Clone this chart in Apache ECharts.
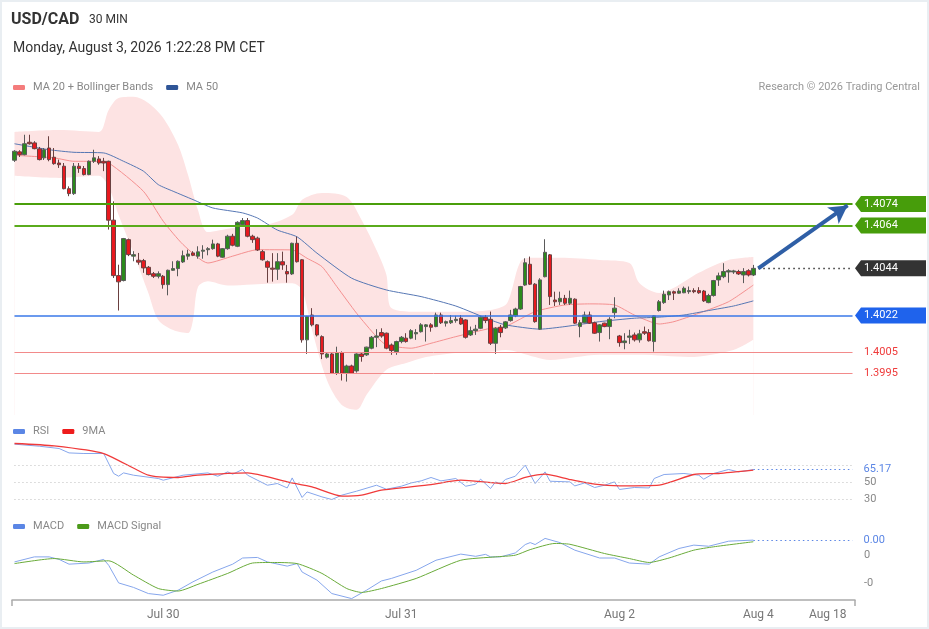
<!DOCTYPE html>
<html><head><meta charset="utf-8">
<script src="https://cdn.jsdelivr.net/npm/echarts@6/dist/echarts.min.js"></script>
<style>
html,body{margin:0;padding:0;background:#fff;}
#c{width:929px;height:629px;position:absolute;left:0;top:0;}
#frame{position:absolute;left:0;top:0;width:929px;height:629px;box-sizing:border-box;border:2px solid #e9eef2;pointer-events:none;}
</style></head><body>
<div id="c"></div><div id="frame"></div>
<script>
// ---------- DATA ----------
const opens=[1.40945,1.40984,1.40971,1.41029,1.41026,1.40998,1.40956,1.41002,1.40959,1.40932,
1.40917,1.40812,1.40789,1.40917,1.40906,1.40878,1.40940,1.40951,1.40940,1.40940,
1.40665,1.40406,1.40383,1.40574,1.40497,1.40478,1.40476,1.40445,1.40415,1.40403,
1.40403,1.40364,1.40431,1.40439,1.40470,1.40497,1.40512,1.40497,1.40520,1.40527,
1.40532,1.40554,1.40492,1.40532,1.40590,1.40543,1.40644,1.40663,1.40590,1.40581,
1.40518,1.40471,1.40441,1.40436,1.40471,1.40425,1.40414,1.40557,1.40480,1.40106,
1.40222,1.40176,1.40121,1.40025,1.40040,1.39950,1.40046,1.39950,1.39984,1.39961,
1.40040,1.40036,1.40067,1.40118,1.40140,1.40137,1.40082,1.40051,1.40098,1.40114,
1.40114,1.40134,1.40144,1.40168,1.40176,1.40168,1.40222,1.40184,1.40186,1.40196,
1.40207,1.40199,1.40129,1.40149,1.40160,1.40212,1.40202,1.40090,1.40165,1.40162,
1.40196,1.40218,1.40250,1.40362,1.40459,1.40366,1.40156,1.40401,1.40503,1.40292,
1.40284,1.40300,1.40277,1.40296,1.40168,1.40186,1.40222,1.40186,1.40140,1.40184,
1.40168,1.40233,1.40124,1.40093,1.40118,1.40129,1.40106,1.40144,1.40140,1.40098,
1.40243,1.40280,1.40316,1.40331,1.40324,1.40326,1.40331,1.40336,1.40336,1.40334,
1.40280,1.40313,1.40386,1.40401,1.40423,1.40423,1.40425,1.40409,1.40429,1.40409];
const closes=[1.40987,1.40971,1.41022,1.41022,1.40999,1.40948,1.40994,1.40948,1.40929,1.40924,
1.40812,1.40789,1.40917,1.40906,1.40878,1.40940,1.40956,1.40932,1.40932,1.40665,
1.40406,1.40377,1.40579,1.40504,1.40504,1.40469,1.40442,1.40411,1.40403,1.40415,
1.40364,1.40431,1.40439,1.40473,1.40499,1.40507,1.40501,1.40517,1.40525,1.40532,
1.40554,1.40497,1.40532,1.40590,1.40548,1.40655,1.40663,1.40590,1.40574,1.40526,
1.40480,1.40445,1.40436,1.40471,1.40456,1.40414,1.40557,1.40471,1.40106,1.40215,
1.40176,1.40129,1.40040,1.40040,1.39950,1.40046,1.39950,1.39984,1.39950,1.40040,
1.40028,1.40072,1.40118,1.40124,1.40124,1.40067,1.40056,1.40098,1.40118,1.40098,
1.40149,1.40140,1.40176,1.40176,1.40165,1.40222,1.40186,1.40191,1.40196,1.40202,
1.40180,1.40118,1.40149,1.40156,1.40212,1.40196,1.40090,1.40160,1.40140,1.40190,
1.40222,1.40250,1.40355,1.40466,1.40366,1.40191,1.40386,1.40515,1.40308,1.40284,
1.40300,1.40277,1.40300,1.40184,1.40186,1.40222,1.40184,1.40137,1.40176,1.40168,
1.40202,1.40254,1.40093,1.40101,1.40124,1.40106,1.40134,1.40137,1.40102,1.40218,
1.40284,1.40319,1.40331,1.40324,1.40334,1.40347,1.40336,1.40331,1.40326,1.40288,
1.40313,1.40383,1.40405,1.40425,1.40429,1.40428,1.40414,1.40425,1.40409,1.40440];
const lows=[1.40937,1.40960,1.40968,1.41018,1.40996,1.40944,1.40946,1.40940,1.40924,1.40909,
1.40809,1.40777,1.40783,1.40886,1.40874,1.40875,1.40932,1.40924,1.40894,1.40621,
1.40395,1.40243,1.40379,1.40497,1.40473,1.40457,1.40419,1.40407,1.40395,1.40393,
1.40345,1.40314,1.40428,1.40403,1.40465,1.40480,1.40497,1.40485,1.40485,1.40501,
1.40527,1.40492,1.40489,1.40527,1.40543,1.40539,1.40641,1.40585,1.40559,1.40521,
1.40476,1.40373,1.40378,1.40386,1.40433,1.40373,1.40409,1.40467,1.40093,1.40040,
1.40169,1.40122,1.40016,1.40019,1.39947,1.39942,1.39916,1.39911,1.39947,1.39953,
1.40004,1.40031,1.40062,1.40072,1.40116,1.40062,1.40036,1.40036,1.40090,1.40093,
1.40109,1.40106,1.40140,1.40098,1.40144,1.40165,1.40180,1.40168,1.40180,1.40186,
1.40176,1.40112,1.40124,1.40129,1.40156,1.40184,1.40082,1.40040,1.40118,1.40157,
1.40191,1.40212,1.40246,1.40358,1.40362,1.40186,1.40152,1.40398,1.40269,1.40264,
1.40269,1.40269,1.40269,1.40180,1.40118,1.40184,1.40180,1.40134,1.40098,1.40165,
1.40109,1.40207,1.40074,1.40062,1.40087,1.40098,1.40093,1.40129,1.40098,1.40051,
1.40238,1.40274,1.40292,1.40292,1.40321,1.40324,1.40321,1.40324,1.40321,1.40283,
1.40277,1.40308,1.40358,1.40394,1.40373,1.40414,1.40409,1.40371,1.40402,1.40404];
const highs=[1.40992,1.40992,1.41064,1.41064,1.41034,1.41007,1.41002,1.41057,1.41002,1.40948,
1.40932,1.40823,1.40932,1.40932,1.40918,1.40944,1.40994,1.40964,1.40956,1.40943,
1.40753,1.40457,1.40582,1.40579,1.40520,1.40512,1.40484,1.40451,1.40423,1.40426,
1.40409,1.40434,1.40473,1.40477,1.40523,1.40527,1.40520,1.40543,1.40548,1.40539,
1.40574,1.40559,1.40535,1.40597,1.40601,1.40660,1.40675,1.40675,1.40597,1.40588,
1.40526,1.40477,1.40511,1.40511,1.40518,1.40456,1.40560,1.40588,1.40483,1.40218,
1.40254,1.40180,1.40127,1.40047,1.40046,1.40074,1.40052,1.39990,1.39990,1.40043,
1.40046,1.40074,1.40124,1.40156,1.40160,1.40140,1.40089,1.40102,1.40124,1.40137,
1.40156,1.40156,1.40184,1.40180,1.40184,1.40233,1.40233,1.40196,1.40222,1.40218,
1.40222,1.40202,1.40168,1.40176,1.40218,1.40222,1.40238,1.40165,1.40176,1.40194,
1.40246,1.40256,1.40358,1.40487,1.40495,1.40371,1.40394,1.40576,1.40507,1.40331,
1.40331,1.40316,1.40336,1.40300,1.40199,1.40238,1.40238,1.40191,1.40180,1.40186,
1.40212,1.40305,1.40129,1.40137,1.40153,1.40140,1.40153,1.40168,1.40156,1.40222,
1.40292,1.40336,1.40336,1.40336,1.40347,1.40355,1.40355,1.40347,1.40352,1.40339,
1.40321,1.40386,1.40420,1.40464,1.40436,1.40433,1.40433,1.40441,1.40436,1.40456];

const ma20Idx=[0,8,12,16,19,26,30,34,39,44,49,56,59,62,65,69,73,75,80,84,89,96,99,105,111,116,121,125,130,133,138,144,149];
const ma20Val=[1.40968,1.40956,1.40940,1.40940,1.40932,1.40800,1.40660,1.40551,1.40465,1.40497,1.40527,1.40526,1.40487,1.40448,1.40355,1.40230,1.40121,1.40082,1.40067,1.40090,1.40121,1.40160,1.40168,1.40238,1.40269,1.40274,1.40269,1.40222,1.40180,1.40191,1.40230,1.40284,1.40362];
const ma50Idx=[0,7,12,18,22,26,29,32,36,40,46,49,53,57,61,68,75,82,89,96,99,106,111,118,125,130,135,140,145,149];
const ma50Val=[1.41022,1.40994,1.40982,1.40979,1.40940,1.40894,1.40831,1.40800,1.40761,1.40722,1.40699,1.40675,1.40619,1.40587,1.40511,1.40394,1.40339,1.40308,1.40264,1.40199,1.40176,1.40156,1.40168,1.40191,1.40207,1.40212,1.40222,1.40243,1.40264,1.40288];
const upperIdx=[0,9,17,19,21,24,27,30,33,35,37,39,44,50,56,58,62,67,70,73,75,76,82,89,96,99,100,102,104,110,118,124,126,130,133,138,144,149];
const upperVal=[1.41077,1.41086,1.41077,1.41180,1.41236,1.41241,1.41212,1.41142,1.41016,1.40876,1.40713,1.40610,1.40629,1.40638,1.40690,1.40760,1.40792,1.40773,1.40666,1.40526,1.40410,1.40255,1.40237,1.40237,1.40246,1.40269,1.40316,1.40470,1.40489,1.40489,1.40479,1.40465,1.40372,1.40325,1.40349,1.40419,1.40479,1.40493];
const lowerIdx=[0,9,17,19,21,24,27,29,32,35,36,37,39,43,48,56,58,60,63,66,69,71,75,79,83,89,96,99,105,108,118,126,136,145,149];
const lowerVal=[1.40872,1.40862,1.40872,1.40820,1.40689,1.40512,1.40325,1.40199,1.40152,1.40138,1.40199,1.40353,1.40380,1.40360,1.40365,1.40370,1.40339,1.40152,1.39919,1.39802,1.39779,1.39849,1.39966,1.39998,1.40026,1.40045,1.40050,1.40059,1.40026,1.40012,1.40036,1.40036,1.40026,1.40059,1.40106];

const rsiIdx=[0,5,9,11,14,18,20,21,22,24,29,30,34,39,41,43,44,46,47,51,53,55,56,58,59,62,64,66,69,73,75,78,80,82,84,86,89,91,93,94,96,97,98,99,101,103,105,107,108,112,113,115,117,119,121,122,125,128,129,131,135,138,139,141,144,146,149];
const rsiVal=[95.1,92.7,90.0,84.8,84.1,84.1,60.6,57.4,61.3,58.6,54.7,52.7,58.6,61.3,57.4,62.5,59.8,65.3,58.6,46.8,48.8,43.6,55.4,32.4,38.9,33.1,30.0,35.1,39.8,46.8,42.1,45.6,49.5,51.9,55.9,51.9,54.7,45.6,48.0,53.9,42.9,50.7,48.0,53.5,57.4,70.4,48.8,62.5,51.5,50.7,46.0,49.5,44.1,46.8,50.7,41.8,44.1,43.6,54.7,59.4,60.6,58.6,53.9,60.6,65.3,62.5,65.17];
const rsiMaIdx=[0,8,18,27,33,37,47,55,60,66,70,74,84,90,99,103,107,112,117,122,130,137,142,149];
const rsiMaVal=[95.9,93.1,84.1,58.6,55.9,58.6,61.3,50.7,44.8,33.9,35.1,41.0,47.6,52.7,48.8,55.9,59.8,53.5,48.0,46.0,46.8,59.4,60.6,64.5];
const rsiLevels=[70,50,30];

const macdIdx=[0,4,7,9,11,15,18,19,21,24,27,30,33,36,40,44,46,49,51,55,57,58,61,64,68,71,74,76,81,85,90,93,95,96,98,101,103,104,105,107,110,113,118,121,124,128,130,134,137,140,144,149];
const macdVal=[-0.00024,-0.00006,-0.00006,-0.00015,-0.00032,-0.00028,-0.00015,-0.00036,-0.00099,-0.00115,-0.00137,-0.00143,-0.00125,-0.00095,-0.00060,-0.00032,-0.00010,-0.00008,-0.00024,-0.00039,-0.00030,-0.00060,-0.00089,-0.00137,-0.00155,-0.00125,-0.00092,-0.00083,-0.00054,-0.00018,0.00004,-0.00004,0.00003,-0.00006,-0.00006,0.00008,0.00038,0.00045,0.00038,0.00060,0.00045,0.00018,-0.00010,-0.00010,-0.00028,-0.00032,-0.00006,0.00024,0.00036,0.00032,0.00050,0.00054];
const signalIdx=[0,8,14,19,24,29,33,37,43,48,52,57,62,67,70,74,81,90,97,101,104,109,112,119,124,128,132,137,141,149];
const signalVal=[-0.00030,-0.00012,-0.00024,-0.00020,-0.00071,-0.00119,-0.00128,-0.00104,-0.00065,-0.00028,-0.00026,-0.00030,-0.00065,-0.00119,-0.00133,-0.00119,-0.00083,-0.00018,-0.00006,0.00000,0.00020,0.00042,0.00039,0.00006,-0.00012,-0.00026,-0.00010,0.00018,0.00030,0.00048];

const levelVal=[1.4074,1.4064,1.4044,1.4022,1.4005,1.3995];
const levelKind=['green','green','last','blue','red','red'];
const targetVal=1.4074;

const tickIdx=[30,78,122,150,164];
const tickText=['Jul 30','Jul 31','Aug 2','Aug 4','Aug 18'];

// ---------- LAYOUT ----------
const nCats=170;
const categories=Array.from({length:nCats},(_,i)=>String(i));
const GL=12, GR=74, GRIGHTX=929-GR;
const pairs=(ix,v)=>ix.map((x,k)=>[x,v[k]]);
const candles=opens.map((o,k)=>[o,closes[k],lows[k],highs[k]]);
const lastIdx=opens.length-1;
const lastClose=closes[lastIdx];
const rsiLast=rsiVal[rsiVal.length-1];
const macdLast=macdVal[macdVal.length-1];
const colors={green:'#479d0b',blue:'#1f63ec',last:'#333333',red:'#ef3b3b'};
const lineStyles={
  green:[{color:'#4a9e0a',width:2},{color:'#5aab1c',width:2}],
  blue:{color:'#3a78e8',width:1.5},
  red:{color:'#f28a8a',width:1}
};
const legendBase={icon:'roundRect',itemWidth:12,itemHeight:5,itemGap:13,padding:0,selectedMode:false,
  textStyle:{color:'#888',fontSize:11,padding:[0,0,0,3]}};

const levelLines=[];
levelVal.forEach((v,k)=>{
  const kind=levelKind[k];
  if(kind==='last') return;
  const ls=kind==='green'?lineStyles.green[k]:lineStyles[kind];
  levelLines.push([{coord:[0,v],lineStyle:Object.assign({type:'solid'},ls)},{coord:[nCats-1,v]}]);
});

const option={
  animation:false,
  textStyle:{fontFamily:'Roboto, sans-serif'},
  title:[
    {text:'USD/CAD',left:11,top:12,padding:0,textStyle:{fontSize:16,fontWeight:'bold',color:'#333'}},
    {text:'30 MIN',left:89,top:14,padding:0,textStyle:{fontSize:12,fontWeight:'normal',color:'#333'}},
    {text:'Monday, August 3, 2026 1:22:28 PM CET',left:13,top:41,padding:0,textStyle:{fontSize:14,fontWeight:'normal',color:'#333'}},
    {text:'Research \u00a9 2026 Trading Central',right:9,top:82,padding:0,textStyle:{fontSize:11,fontWeight:'normal',color:'#999'}}
  ],
  legend:[
    Object.assign({},legendBase,{data:['MA 20 + Bollinger Bands','MA 50'],left:13,top:82}),
    Object.assign({},legendBase,{data:['RSI','9MA'],left:13,top:426}),
    Object.assign({},legendBase,{data:['MACD','MACD Signal'],left:13,top:521})
  ],
  grid:[
    {left:GL,right:GR,top:90,height:325},
    {left:GL,right:GR,top:440,height:68},
    {left:GL,right:GR,top:530,height:70}
  ],
  xAxis:[
    {gridIndex:0,type:'category',data:categories,boundaryGap:true,show:false},
    {gridIndex:1,type:'category',data:categories,boundaryGap:true,show:false},
    {gridIndex:2,type:'category',data:categories,boundaryGap:true,
     axisLine:{onZero:false,lineStyle:{color:'#aaa',width:1.5}},axisTick:{show:false},
     axisLabel:{color:'#777',fontSize:12,margin:9,
       interval:(i)=>tickIdx.indexOf(i)>=0,
       formatter:(v,i)=>{const k=tickIdx.indexOf(i);return k>=0?tickText[k]:'';}}}
  ],
  yAxis:[
    {gridIndex:0,type:'value',min:1.39755,max:1.41273,show:false,splitLine:{show:false}},
    {gridIndex:1,type:'value',min:20,max:100,interval:10,position:'right',
     splitLine:{show:false},axisLine:{show:false},axisTick:{show:false},
     axisLabel:{color:'#888',fontSize:11,margin:9,formatter:(v)=>(v===30||v===50)?String(v):''}},
    {gridIndex:2,type:'value',min:-0.0016,max:0.0009,interval:0.0001,position:'right',
     splitLine:{show:false},axisLine:{show:false},axisTick:{show:false},
     axisLabel:{color:'#888',fontSize:11,margin:9,formatter:(v)=>Math.abs(v)<1e-9?'0':(Math.abs(v+0.001)<1e-9?'-0':'')}}
  ],
  series:[
    {name:'BBU',type:'line',xAxisIndex:0,yAxisIndex:0,data:pairs(upperIdx,upperVal),symbol:'none',smooth:0.3,
     lineStyle:{width:0,opacity:0},areaStyle:{color:'#fde3e3',opacity:1,origin:'start'},z:1,silent:true},
    {name:'BBL',type:'line',xAxisIndex:0,yAxisIndex:0,data:pairs(lowerIdx,lowerVal),symbol:'none',smooth:0.3,
     lineStyle:{width:0,opacity:0},areaStyle:{color:'#ffffff',opacity:1,origin:'start'},z:1,silent:true},
    {name:'MA 20 + Bollinger Bands',type:'line',xAxisIndex:0,yAxisIndex:0,data:pairs(ma20Idx,ma20Val),symbol:'none',smooth:0.2,
     color:'#f47c7c',lineStyle:{color:'#f59090',width:1},z:2,silent:true},
    {name:'MA 50',type:'line',xAxisIndex:0,yAxisIndex:0,data:pairs(ma50Idx,ma50Val),symbol:'none',smooth:0.2,
     color:'#2f5597',lineStyle:{color:'#5677b4',width:1},z:2,silent:true},
    {name:'USD/CAD',type:'candlestick',xAxisIndex:0,yAxisIndex:0,data:candles,barWidth:4,z:3,silent:true,
     itemStyle:{color:'#2b8a1c',color0:'#e8191e',borderColor:'#5a5a5a',borderColor0:'#6a4040',borderWidth:1}},
    {name:'levels',type:'line',xAxisIndex:0,yAxisIndex:0,data:[[lastIdx,lastClose]],showSymbol:false,symbol:'none',
     lineStyle:{opacity:0},z:5,silent:true,
     markLine:{silent:true,symbol:['none','none'],label:{show:false},animation:false,
       data:[
         ...levelLines,
         [{coord:[lastIdx+1,levelVal[2]],lineStyle:{color:'#333',width:1.3,type:[1.5,3.5]}},{coord:[nCats-1,levelVal[2]]}],
         [{coord:[lastIdx+1,lastClose],symbol:'none',lineStyle:{color:'#2f5fa6',width:4,type:'solid'}},
          {coord:[nCats-2,targetVal-0.00006],symbol:'arrow',symbolSize:[15,18]}]
       ]}},
    {name:'RSI',type:'line',xAxisIndex:1,yAxisIndex:1,data:pairs(rsiIdx,rsiVal),symbol:'none',
     color:'#5b86e5',lineStyle:{color:'#86a6ec',width:1},z:3,silent:true,
     markLine:{silent:true,symbol:['none','none'],label:{show:false},animation:false,
       data:[
         ...rsiLevels.map(v=>[{coord:[0,v],lineStyle:{color:'#bdbdbd',width:1,type:[1,3]}},{coord:[nCats-1,v]}]),
         [{coord:[lastIdx,rsiLast],lineStyle:{color:'#5b86e5',width:1.2,type:[1.5,3]},
           label:{show:true,position:'end',distance:9,formatter:rsiLast.toFixed(2),color:'#5b86e5',fontSize:11,backgroundColor:'#fff',padding:[1,2]}},
          {coord:[nCats-1,rsiLast]}]
       ]}},
    {name:'9MA',type:'line',xAxisIndex:1,yAxisIndex:1,data:pairs(rsiMaIdx,rsiMaVal),symbol:'none',smooth:0.2,
     color:'#ee1c1c',lineStyle:{color:'#f03a3a',width:1.3},z:4,silent:true},
    {name:'MACD',type:'line',xAxisIndex:2,yAxisIndex:2,data:pairs(macdIdx,macdVal),symbol:'none',
     color:'#5b86e5',lineStyle:{color:'#86a6ec',width:1},z:3,silent:true,
     markLine:{silent:true,symbol:['none','none'],label:{show:false},animation:false,
       data:[
         [{coord:[lastIdx,macdLast],lineStyle:{color:'#5b86e5',width:1.2,type:[1.5,3]},
           label:{show:true,position:'end',distance:9,formatter:macdLast.toFixed(2),color:'#5b86e5',fontSize:11,backgroundColor:'#fff',padding:[1,2]}},
          {coord:[nCats-1,macdLast]}]
       ]}},
    {name:'MACD Signal',type:'line',xAxisIndex:2,yAxisIndex:2,data:pairs(signalIdx,signalVal),symbol:'none',smooth:0.2,
     color:'#4c9a1a',lineStyle:{color:'#6aab3a',width:1},z:4,silent:true}
  ]
};

const chart=echarts.init(document.getElementById('c'),null,{renderer:'canvas'});
chart.setOption(option);

// price tags on the right, placed through the chart's own y scale
const gfx=[];
levelVal.forEach((v,k)=>{
  const y=chart.convertToPixel({yAxisIndex:0},v);
  const kind=levelKind[k];
  const txt=v.toFixed(4);
  if(kind==='red'){
    gfx.push({type:'text',x:864,y:y,style:{text:txt,fill:colors.red,font:'11px Roboto, sans-serif',verticalAlign:'middle'},z:20});
  }else{
    gfx.push({type:'polygon',shape:{points:[[GRIGHTX,y],[GRIGHTX+6,y-8],[926,y-8],[926,y+8],[GRIGHTX+6,y+8]]},
      style:{fill:colors[kind]},z:19});
    gfx.push({type:'text',x:864,y:y,style:{text:txt,fill:'#fff',font:'11px Roboto, sans-serif',verticalAlign:'middle'},z:20});
  }
});
// axis end ticks
const axY=600;
[GL,GRIGHTX].forEach(x=>{
  gfx.push({type:'line',shape:{x1:x,y1:axY,x2:x,y2:axY+6},style:{stroke:'#aaa',lineWidth:1.5},z:10});
});
chart.setOption({graphic:gfx});
</script>
</body></html>
